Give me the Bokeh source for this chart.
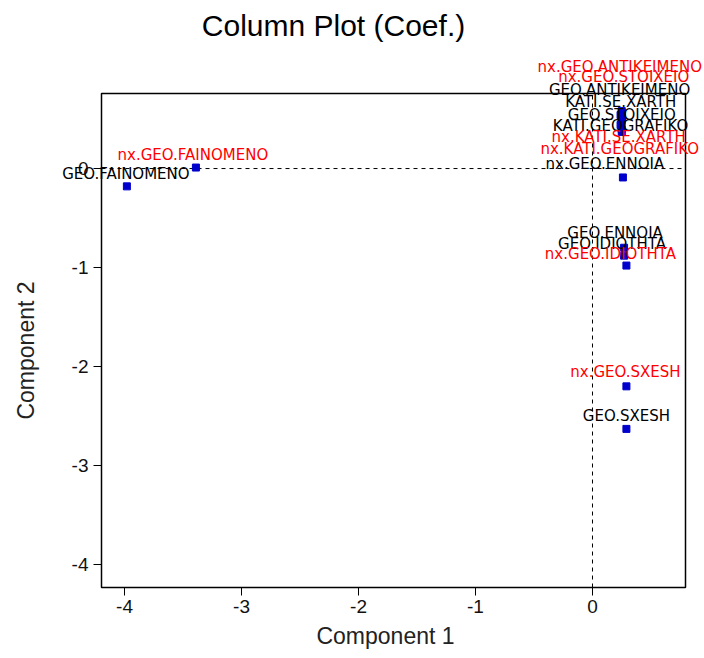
import math
from bokeh.plotting import figure
from bokeh.models import (ColumnDataSource, Label, Range1d, FixedTicker,
                          PrintfTickFormatter, LinearAxis, BoxAnnotation)
from bokeh.embed import file_html
from bokeh.resources import INLINE

# Variable loadings on the first two components
names = ["GEO.FAINOMENO", "nx.GEO.FAINOMENO", "nx.GEO.ENNOIA", "GEO.ENNOIA",
         "GEO.IDIOTHTA", "nx.GEO.IDIOTHTA", "nx.GEO.SXESH", "GEO.SXESH",
         "nx.GEO.ANTIKEIMENO", "nx.GEO.STOIXEIO", "GEO.ANTIKEIMENO", "KATI.SE.XARTH",
         "GEO.STOIXEIO", "KATI.GEOGRAFIKO", "nx.KATI.SE.XARTH", "nx.KATI.GEOGRAFIKO"]
comp1 = [-3.98, -3.39, 0.26, 0.27, 0.27, 0.29, 0.29, 0.29,
         0.25, 0.25, 0.24, 0.25, 0.25, 0.24, 0.25, 0.25]
comp2 = [-0.18, 0.01, -0.09, -0.80, -0.88, -0.98, -2.20, -2.63,
         0.58, 0.56, 0.54, 0.51, 0.48, 0.44, 0.40, 0.37]

x_ticks = [-4, -3, -2, -1, 0]
y_ticks = [-4, -3, -2, -1, 0]

# label placement (pixels) so the crowded names stay readable
label_dx = [-1, -3, -18, -9, -12, -16, -1, 0, -2, 2, -1, -1, 0, 0, -3, -2]
label_dy = [12, 13, 13, 15, 12, 12, 14, 13, 44, 36, 25, 16, 6, -1, -8, -17]
label_colors = ["#000000", "#ff0000", "#000000", "#000000", "#000000", "#ff0000",
                "#ff0000", "#000000", "#ff0000", "#ff0000", "#000000", "#000000",
                "#000000", "#000000", "#ff0000", "#ff0000"]

# plot box: data limits and where it sits on the page (pixels)
W, H = 704, 658
box_x = (-4.197, 0.795)
box_y = (-4.232, 0.758)
BOX_L, BOX_R, BOX_T, BOX_B = 101, 685, 93, 587

# the drawing area spans the whole page so that names may spill past the box
kx = (BOX_R - BOX_L) / (box_x[1] - box_x[0])
ky = (BOX_B - BOX_T) / (box_y[1] - box_y[0])
x_start = box_x[0] - BOX_L / kx
x_end = box_x[1] + (W - BOX_R) / kx
y_end = box_y[1] + BOX_T / ky
y_start = box_y[0] - (H - BOX_B) / ky


def page_x(px):
    return x_start + px / kx


def page_y(py):
    return y_end - py / ky


src = ColumnDataSource(dict(x=comp1, y=comp2, name=names))

p = figure(width=W, height=H, x_range=Range1d(x_start, x_end),
           y_range=Range1d(y_start, y_end), min_border=0,
           x_axis_location=None, y_axis_location=None,
           output_backend="svg", toolbar_location=None,
           background_fill_color="white", border_fill_color="white")
p.grid.visible = False
p.outline_line_color = None

# box around the plotting region
p.add_layout(BoxAnnotation(left=box_x[0], right=box_x[1], bottom=box_y[0],
                           top=box_y[1], fill_alpha=0, line_color="black",
                           line_width=1.5, line_alpha=1))

xaxis = LinearAxis(fixed_location=box_y[0])
yaxis = LinearAxis(fixed_location=box_x[0])
for ax, ticks in ((xaxis, x_ticks), (yaxis, y_ticks)):
    ax.ticker = FixedTicker(ticks=ticks)
    ax.formatter = PrintfTickFormatter(format="%d")
    ax.axis_line_color = None
    ax.major_tick_line_color = "black"
    ax.major_tick_out = 8
    ax.major_tick_in = 0
    ax.minor_tick_line_color = None
    ax.major_label_text_font = "Liberation Sans"
    ax.major_label_text_font_size = "19px"
    ax.major_label_text_color = "#111111"
xaxis.major_label_standoff = 4
yaxis.major_label_standoff = 5
yaxis.major_label_orientation = "horizontal"
p.add_layout(xaxis, "below")
p.add_layout(yaxis, "left")

# axis titles, centred on the box
axis_font = dict(text_font="Liberation Sans", text_font_size="23px",
                 text_color="#222222", text_align="center", text_baseline="middle")
p.add_layout(Label(x=page_x(385), y=page_y(635), text="Component 1", **axis_font))
p.add_layout(Label(x=page_x(25), y=page_y(350), text="Component 2",
                   angle=math.pi / 2, **axis_font))

# dashed reference lines through the origin, limited to the box
p.segment(x0=[box_x[0], 0], y0=[0, box_y[0]], x1=[box_x[1], 0], y1=[0, box_y[1]],
          line_color="black", line_dash="4 4", line_width=1)

p.scatter("x", "y", source=src, marker="square", size=7,
          fill_color="#0000cc", line_color="#0000cc")

for xv, yv, nm, dx, dy, col in zip(comp1, comp2, names, label_dx, label_dy, label_colors):
    p.add_layout(Label(x=xv, y=yv, text=nm, x_offset=dx, y_offset=dy,
                       text_color=col, text_font="DejaVu Sans",
                       text_font_size="15px", text_align="center",
                       text_baseline="middle"))

# chart title above the box
p.add_layout(Label(x=page_x(333), y=page_y(25),
                   text="Column Plot (Coef.)", text_font="Liberation Sans",
                   text_font_size="30px", text_color="black",
                   text_align="center", text_baseline="middle"))

open("out.html", "w").write(file_html(p, INLINE))
